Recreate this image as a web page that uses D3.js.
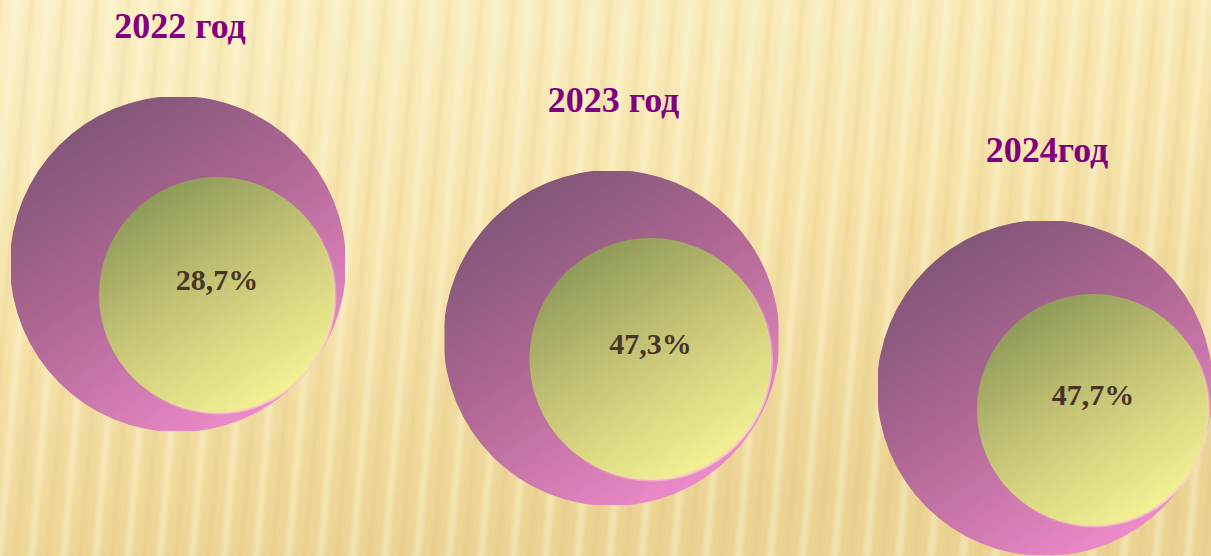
<!DOCTYPE html>
<html>
<head>
<meta charset="utf-8">
<script src="https://cdn.jsdelivr.net/npm/d3@7"></script>
<style>
  html, body { margin: 0; padding: 0; overflow: hidden; }
  svg { display: block; }
</style>
</head>
<body>
<div id="chart"></div>
<script>
// data
const years = ["2022", "2023", "2024"];
const titles = ["2022 год", "2023 год", "2024год"];
const values = [28.7, 47.3, 47.7];
const valueLabels = ["28,7%", "47,3%", "47,7%"];

const width = 1211, height = 556;

const svg = d3.select("#chart")
  .append("svg")
    .attr("width", width)
    .attr("height", height);

const defs = svg.append("defs");

// background: soft beige with slanted stripes
const bg = defs.append("linearGradient").attr("id", "bg")
  .attr("x1", 0).attr("y1", 0).attr("x2", 0.35).attr("y2", 1);
bg.append("stop").attr("offset", 0).attr("stop-color", "#fcf0c4");
bg.append("stop").attr("offset", 0.5).attr("stop-color", "#f6e4ab");
bg.append("stop").attr("offset", 1).attr("stop-color", "#ebd392");

const stripeGrad = defs.append("linearGradient").attr("id", "stripeGrad")
  .attr("x1", 0).attr("y1", 0).attr("x2", 1).attr("y2", 0);
[[0, "#c9a860", 0.14], [0.3, "#fff8dc", 0.0], [0.5, "#fff8dc", 0.45], [0.7, "#fff8dc", 0.0], [1, "#c9a860", 0.14]]
  .forEach(s => stripeGrad.append("stop").attr("offset", s[0])
    .attr("stop-color", s[1]).attr("stop-opacity", s[2]));

const stripes = defs.append("pattern").attr("id", "stripes")
  .attr("patternUnits", "userSpaceOnUse")
  .attr("width", 32).attr("height", 700)
  .attr("patternTransform", "rotate(5)");
stripes.append("rect").attr("width", 32).attr("height", 700).attr("fill", "url(#stripeGrad)");

svg.append("rect").attr("width", width).attr("height", height).attr("fill", "url(#bg)");
svg.append("rect").attr("width", width).attr("height", height).attr("fill", "url(#stripes)");

// circle gradients
const outerGrad = defs.append("linearGradient").attr("id", "outerGrad")
  .attr("x1", 0.1).attr("y1", 0.1).attr("x2", 0.7).attr("y2", 1);
outerGrad.append("stop").attr("offset", 0).attr("stop-color", "#7d5475");
outerGrad.append("stop").attr("offset", 0.45).attr("stop-color", "#ae6793");
outerGrad.append("stop").attr("offset", 1).attr("stop-color", "#f08ccc");

const innerGrad = defs.append("linearGradient").attr("id", "innerGrad")
  .attr("x1", 0.2).attr("y1", 0.05).attr("x2", 0.75).attr("y2", 0.95);
innerGrad.append("stop").attr("offset", 0).attr("stop-color", "#8a9756");
innerGrad.append("stop").attr("offset", 0.5).attr("stop-color", "#c9c777");
innerGrad.append("stop").attr("offset", 1).attr("stop-color", "#f4f294");

// light rim on the lower right of the inner ball
const rimGrad = defs.append("linearGradient").attr("id", "rimGrad")
  .attr("x1", 0.2).attr("y1", 0.2).attr("x2", 0.9).attr("y2", 0.9);
rimGrad.append("stop").attr("offset", 0.5).attr("stop-color", "#f8d6c0").attr("stop-opacity", 0);
rimGrad.append("stop").attr("offset", 1).attr("stop-color", "#f8d6c0").attr("stop-opacity", 0.9);

// layout
const x = d3.scalePoint().domain(years).range([178, 1045]);
const y = d3.scaleOrdinal().domain(years).range([264, 338, 388]);
const innerDx = d3.scaleOrdinal().domain(years).range([39, 39, 48]);
const innerDy = d3.scaleOrdinal().domain(years).range([31, 21, 22]);
const innerR = d3.scaleOrdinal().domain(years).range([118, 121, 116]);
const R = 168, half = 167;

const data = years.map((d, i) => ({year: d, title: titles[i], value: values[i], label: valueLabels[i]}));

data.forEach((d, i) => {
  defs.append("clipPath").attr("id", "clip" + i)
    .append("rect")
      .attr("x", x(d.year) - half).attr("y", y(d.year) - half)
      .attr("width", half * 2).attr("height", half * 2);
});

const g = svg.selectAll("g.ball")
  .data(data)
  .join("g")
    .attr("class", "ball");

g.append("circle")
  .attr("cx", d => x(d.year))
  .attr("cy", d => y(d.year))
  .attr("r", R)
  .attr("clip-path", (d, i) => `url(#clip${i})`)
  .attr("fill", "url(#outerGrad)");

g.append("circle")
  .attr("cx", d => x(d.year) + innerDx(d.year))
  .attr("cy", d => y(d.year) + innerDy(d.year))
  .attr("r", d => innerR(d.year))
  .attr("fill", "url(#innerGrad)")
  .attr("stroke", "url(#rimGrad)")
  .attr("stroke-width", 3);

g.append("text")
  .attr("x", d => x(d.year) + innerDx(d.year))
  .attr("y", d => y(d.year) + innerDy(d.year) - 5)
  .attr("text-anchor", "middle")
  .style("font-family", "'Liberation Serif', 'Times New Roman', serif")
  .style("font-weight", "bold")
  .style("font-size", "30px")
  .style("fill", "#4a3427")
  .text(d => d.label);

g.append("text")
  .attr("x", d => x(d.year) + 2)
  .attr("y", d => y(d.year) - 226)
  .attr("text-anchor", "middle")
  .style("font-family", "'Liberation Serif', 'Times New Roman', serif")
  .style("font-weight", "bold")
  .style("font-size", "36px")
  .style("fill", "#800080")
  .text(d => d.title);
</script>
</body>
</html>
